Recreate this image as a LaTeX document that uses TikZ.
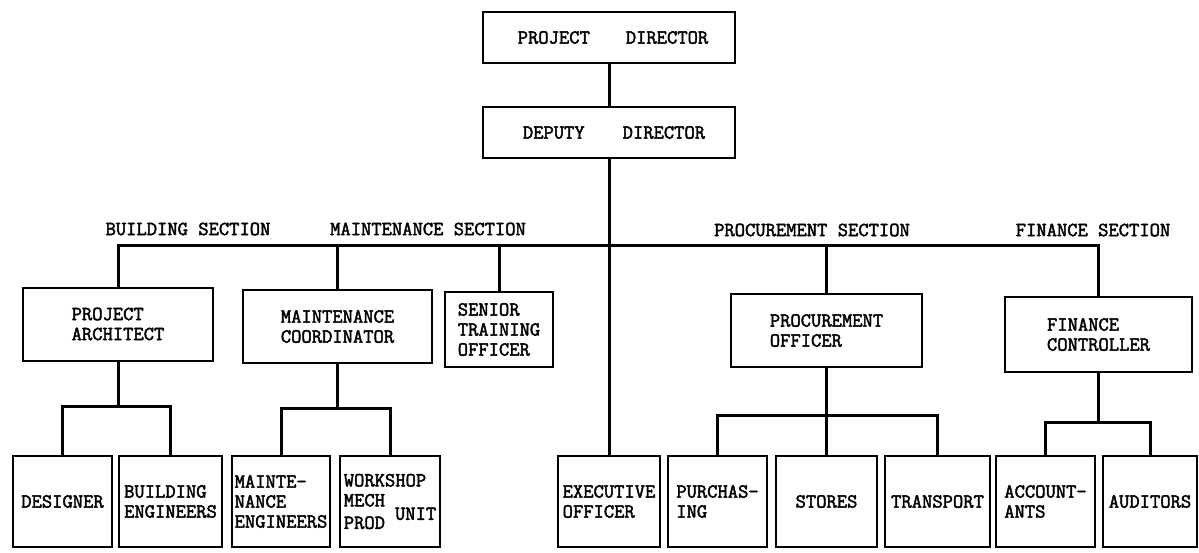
\documentclass[tikz,border=0pt]{standalone}
\usepackage{fontspec}
\setmonofont{Latin Modern Mono}[AutoFakeBold=2.2]
\usetikzlibrary{positioning}

\begin{document}
\begin{tikzpicture}[
  x=1pt, y=-1pt,
  font=\ttfamily\bfseries\fontsize{20}{20}\selectfont,
  box/.style={draw, line width=2pt, inner sep=1.5pt, align=left},
  top/.style={box, minimum width=252pt, minimum height=51pt},
  mid/.style={box, minimum height=73pt},
  low/.style={box, minimum height=91pt},
  conn/.style={line width=3pt},
  sec/.style={inner sep=0pt},
]
\useasboundingbox (0,0) rectangle (1199,552);

% director and deputy
\node[top] (pd) at (609,37.5) {\hspace{8pt}PROJECT\hspace{36pt}DIRECTOR};
\node[top] (dd) at (609,132.5) {\hspace{10pt}DEPUTY\hspace{38pt}DIRECTOR};
\draw[conn] (pd) -- (dd);

% section heads
\node[mid, minimum width=190pt] (pa) at (118,324) {PROJECT\\ARCHITECT};
\node[mid, minimum width=189pt] (mc) at (337.5,326.5) {MAINTENANCE\\COORDINATOR};
\node[mid, minimum width=108pt, minimum height=75pt] (sto) at (499,329.5)
  {SENIOR\\TRAINING\\OFFICER};
\node[mid, minimum width=191pt] (po) at (826.5,330.5) {PROCUREMENT\\OFFICER};
\node[mid, minimum width=187pt, minimum height=75pt] (fc) at (1098.5,334.5)
  {FINANCE\\CONTROLLER};

% main bus
\coordinate (bus) at (609,245);
\draw[conn] (pa.north) |- (bus) -| (fc.north);
\foreach \n in {mc,sto,po} {
  \draw[conn] (\n.north) -- (\n.north |- bus);
}
\foreach \n/\x/\y/\t in {bsec/188/229/BUILDING SECTION,
    msec/428/229/MAINTENANCE SECTION,
    psec/812/230/PROCUREMENT SECTION,
    fsec/1093/230/FINANCE SECTION} {
  \node[sec] (\n) at (\x,\y) {\t};
}

% units
\foreach \n/\x/\w/\t in {des/62.5/99/DESIGNER,
    be/170.5/103/{BUILDING\\ENGINEERS},
    me/281/98/{MAINTE-\\NANCE\\ENGINEERS},
    ws/390/100/{WORKSHOP\\MECH\\PROD\hspace{10pt}\raisebox{9pt}{UNIT}},
    ex/609/102/{EXECUTIVE\\OFFICER},
    pu/717.5/99/{PURCHAS-\\ING},
    st/826.5/101/STORES,
    tr/937.5/105/TRANSPORT,
    ac/1045.5/99/{ACCOUNT-\\ANTS},
    au/1150/94/AUDITORS} {
  \node[low, minimum width=\w pt] (\n) at (\x,501.5) {\t};
}
\draw[conn] (dd.south) -- (ex.north);

% sub-trees
\coordinate (pab) at (118,406);
\coordinate (mcb) at (337.5,408);
\coordinate (pob) at (826.5,415);
\coordinate (fcb) at (1098.5,422);
\draw[conn] (pa.south) -- (pab);
\draw[conn] (des.north) |- (pab) -| (be.north);
\draw[conn] (mc.south) -- (mcb);
\draw[conn] (me.north) |- (mcb) -| (ws.north);
\draw[conn] (po.south) -- (st.north);
\draw[conn] (pu.north) |- (pob) -| (tr.north);
\draw[conn] (fc.south) -- (fcb);
\draw[conn] (ac.north) |- (fcb) -| (au.north);
\end{tikzpicture}
\end{document}
